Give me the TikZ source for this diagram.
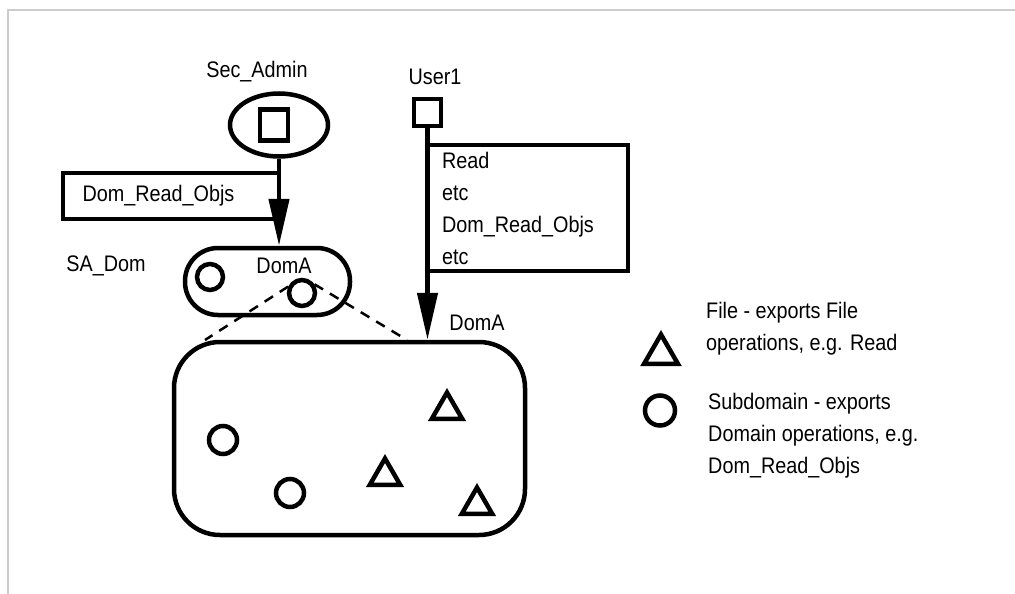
\documentclass[tikz,border=0pt]{standalone}
\usepackage{fontspec}
\setmainfont[FakeStretch=0.88]{Liberation Sans}
\usepackage{tikz}
\usetikzlibrary{arrows.meta,shapes.geometric}

\begin{document}
\begin{tikzpicture}[x=1pt, y=-1pt,
    every node/.style={font=\fontsize{22.5}{32}\selectfont, inner sep=0pt},
    heavy/.style={draw, line width=4.5pt},
    obj/.style={heavy, circle, minimum size=28pt},
    file/.style={heavy, regular polygon, regular polygon sides=3, minimum size=35pt},
    flow/.style={line width=4.5pt, -{Triangle[length=47pt, width=20pt]}},
    link/.style={line width=2.5pt, dash pattern=on 10pt off 8pt}]

    \useasboundingbox (0,0) rectangle (1015,594);

    % Frame
    \draw[black!20, line width=1.5pt] (8,594) -- (8,10) -- (1015,10);

    % Sec_Admin
    \node (secadmin) at (257,72) {Sec\_Admin};
    \node[heavy, ellipse, minimum width=98pt, minimum height=63pt] (saell) at (279,125) {};
    \node[heavy, minimum width=28pt, minimum height=31pt] (sasq) at (274,125) {};
    \node[heavy, minimum width=216pt, minimum height=46pt, text width=177pt, align=left] (saops) at (171,196) {Dom\_Read\_Objs};

    % User1
    \node (user1) at (435,77) {User1};
    \node[heavy, minimum size=27pt] (usq) at (427.5,112.5) {};
    \node[heavy, minimum width=200pt, minimum height=126pt, text width=172pt, align=left] (userops) at (528,208) {Read\\etc\\Dom\_Read\_Objs\\etc};

    % SA_Dom
    \node (sadomlbl) at (106,266) {SA\_Dom};
    \node[heavy, rounded corners=33pt, minimum width=165pt, minimum height=67pt] (sadom) at (267.5,281.5) {};
    \node (sadomname) at (284,266) {DomA};
    \node[obj, minimum size=26pt] (sub1) at (210,277) {};
    \node[obj, minimum size=26pt] (sub2) at (302,293) {};

    % DomA
    \node[heavy, rounded corners=46pt, minimum width=351pt, minimum height=193pt] (doma) at (349.5,438.5) {};
    \node (domalbl) at (477,323) {DomA};
    \node[obj] (sub3) at (223,440) {};
    \node[obj] (sub4) at (290,493) {};
    \node[file] (file1) at (447,410) {};
    \node[file] (file2) at (385,476) {};
    \node[file] (file3) at (477,505) {};

    % Arrows
    \draw[flow] (saell.south) -- (saell.south |- sadom.north);
    \draw[flow] (usq.south) -- (usq.south |- doma.north);

    % Dashed links
    \coordinate (dl) at (205,340);
    \coordinate (dr) at (407,340);
    \draw[link] (sub2.155) -- (dl);
    \draw[link] (sub2.35) -- (dr);

    % Legend
    \node[file, minimum size=39pt] (legfile) at (661,354) {};
    \node[anchor=west, align=left] (legfiletxt) at (706,329) {File - exports File\\operations, e.g. Read};
    \node[obj, minimum size=30pt] (legsub) at (660,410.5) {};
    \node[anchor=west, align=left] (legsubtxt) at (708,436) {Subdomain - exports\\Domain operations, e.g.\\Dom\_Read\_Objs};
\end{tikzpicture}
\end{document}
